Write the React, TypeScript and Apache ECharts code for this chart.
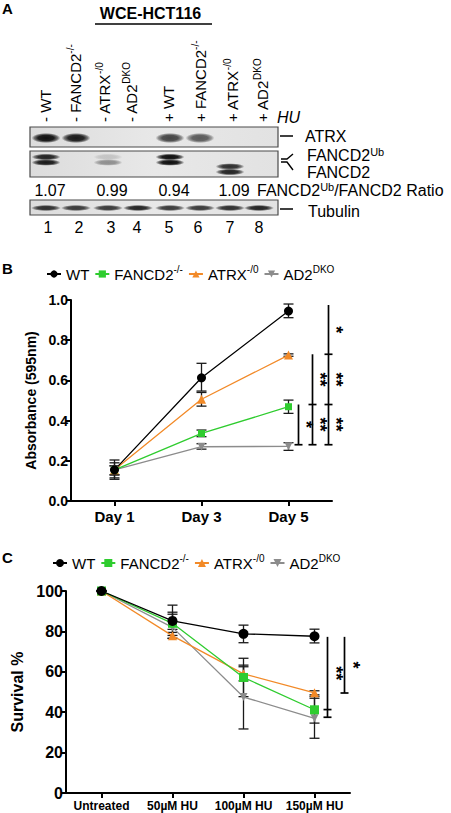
import React, { useEffect, useRef } from 'react';
import * as echarts from 'echarts';

const FONT = '"Liberation Sans", Arial, Helvetica, sans-serif';

// ---------------- Panel A (western blot) data ----------------
const huSigns = ['-', '-', '-', '-', '+', '+', '+', '+'];
const genotypes = ['WT', 'FANCD2', 'ATRX', 'AD2', 'WT', 'FANCD2', 'ATRX', 'AD2'];
const genoSup = ['', '-/-', '-/0', 'DKO', '', '-/-', '-/0', 'DKO'];
const laneNumbers = ['1', '2', '3', '4', '5', '6', '7', '8'];
const atrxBand = [1.0, 0.95, 0, 0, 0.75, 0.65, 0, 0];
const fancd2UbBand = [0.9, 0, 0.15, 0, 1.0, 0, 0.85, 0];
const fancd2Band = [0.95, 0, 0.4, 0, 1.0, 0, 0.9, 0];
const tubulinBand = [0.85, 0.8, 0.8, 0.9, 0.8, 0.8, 0.85, 0.9];
const ratioLanes = [0, 2, 4, 6];
const ratioValues = [1.07, 0.99, 0.94, 1.09];

// ---------------- Panel B data ----------------
const daysB = ['Day 1', 'Day 3', 'Day 5'];
const bWT = [0.155, 0.613, 0.945];
const bFANCD2 = [0.155, 0.336, 0.469];
const bATRX = [0.155, 0.506, 0.726];
const bAD2 = [0.155, 0.27, 0.272];
const bWTErr = [[0.108, 0.204], [0.547, 0.685], [0.912, 0.98]];
const bFANCD2Err = [[0.13, 0.175], [0.32, 0.353], [0.436, 0.502]];
const bATRXErr = [[0.115, 0.19], [0.472, 0.54], [0.72, 0.732]];
const bAD2Err = [[0.13, 0.175], [0.258, 0.285], [0.252, 0.29]];
// significance: [line index, from, to, stars]
const bSig: [number, number, number, string][] = [
  [0, 0.28, 0.48, '*'],
  [1, 0.28, 0.48, '**'],
  [1, 0.48, 0.73, '**'],
  [2, 0.28, 0.48, '**'],
  [2, 0.48, 0.73, '**'],
  [2, 0.73, 0.975, '*'],
];

// ---------------- Panel C data ----------------
const dosesC = ['Untreated', '50µM HU', '100µM HU', '150µM HU'];
const cWT = [100, 85.2, 78.8, 77.6];
const cFANCD2 = [100, 84, 57.2, 41.2];
const cATRX = [100, 77.8, 59, 49.6];
const cAD2 = [100, 82, 47.5, 37];
const cWTErr = [[100, 100], [81, 89.5], [74.4, 83.1], [74.3, 81.1]];
const cFANCD2Err = [[100, 100], [76.5, 93], [47.7, 66.7], [34.6, 47.8]];
const cATRXErr = [[100, 100], [76.6, 79.5], [55.5, 62.5], [48.6, 50.6]];
const cAD2Err = [[100, 100], [78, 88.5], [31.7, 63.3], [27.1, 46.9]];
const cSig: [number, number, number, string][] = [
  [0, 37.5, 41.3, ''],
  [0, 41.3, 77.3, '**'],
  [1, 49.5, 77.3, '*'],
];

const supMap: Record<string, string> = { WT: '', FANCD2: '-/-', ATRX: '-/0', AD2: 'DKO' };
const COLORS: Record<string, string> = {
  WT: '#000000',
  FANCD2: '#2fcc2f',
  ATRX: '#f28a28',
  AD2: '#8c8c8c',
};

const richStyles = (size: number, supSize: number, lh: number, supLh: number) => ({
  n: { fontSize: size, lineHeight: lh, fontFamily: FONT, color: '#000' },
  s: { fontSize: supSize, lineHeight: supLh, verticalAlign: 'top', fontFamily: FONT, color: '#000' },
});
const richLabel = (main: string, sup: string) => `{n|${main}}` + (sup ? `{s|${sup}}` : '');

function buildBlot() {
  const els: any[] = [];
  const laneX = [46, 76, 108, 138, 170, 200, 230, 259];
  const labelX = [45, 75, 104, 131, 168, 200, 232, 262];
  const numX = [48, 79, 111, 137, 169, 198, 230, 259];
  const txt = (x: number, y: number, text: string, extra: any = {}) => ({
    type: 'text', x, y, silent: true,
    style: { text, fontFamily: FONT, fontSize: 16, fill: '#000', align: 'left', verticalAlign: 'middle', ...extra },
  });
  els.push(txt(2, 8, 'A', { fontWeight: 'bold', fontSize: 15 }));
  els.push(txt(150.5, 13, 'WCE-HCT116', { fontWeight: 'bold', fontSize: 16, align: 'center' }));
  els.push({ type: 'line', silent: true, shape: { x1: 95, y1: 24, x2: 212, y2: 24 }, style: { stroke: '#000', lineWidth: 1.5 } });
  // lane labels
  for (let i = 0; i < 8; i++) {
    els.push({
      type: 'text', x: labelX[i], y: 122, rotation: Math.PI / 2, silent: true,
      style: {
        text: `{n|${huSigns[i]} ${genotypes[i]}}` + (genoSup[i] ? `{s|${genoSup[i]}}` : ''),
        rich: richStyles(15, 10, 20, 8), align: 'left', verticalAlign: 'middle', fontFamily: FONT, fontSize: 15,
      },
    });
  }
  els.push(txt(277, 117, 'HU', { fontStyle: 'italic', fontSize: 16 }));
  // blot boxes
  const boxes = [
    { y: 127, h: 20 },
    { y: 151, h: 26 },
    { y: 200, h: 15 },
  ];
  boxes.forEach((b) => {
    els.push({
      type: 'rect', silent: true, shape: { x: 30, y: b.y, width: 248, height: b.h },
      style: {
        fill: { type: 'linear', x: 0, y: 0, x2: 1, y2: 0, colorStops: [
          { offset: 0, color: '#dcdcdc' }, { offset: 0.5, color: '#e8e8e8' }, { offset: 1, color: '#e2e2e2' },
        ] },
        stroke: '#4a4a4a', lineWidth: 1.2,
      },
    });
  });
  const band = (cx: number, cy: number, w: number, h: number, a: number) => ({
    type: 'rect', silent: true,
    shape: { x: cx - w / 2, y: cy - h / 2, width: w, height: h },
    style: {
      opacity: a,
      fill: {
        type: 'radial', x: 0.5, y: 0.5, r: 0.5,
        colorStops: [
          { offset: 0, color: 'rgba(15,15,15,1)' },
          { offset: 0.55, color: 'rgba(20,20,20,0.95)' },
          { offset: 0.8, color: 'rgba(40,40,40,0.6)' },
          { offset: 1, color: 'rgba(60,60,60,0)' },
        ],
      },
    },
  });
  const laneShift = [0, 0, 0, 0, 0, 0, 9.5, 0];
  for (let i = 0; i < 8; i++) {
    if (atrxBand[i] > 0) els.push(band(laneX[i], 138, 29, 10, atrxBand[i]));
    if (fancd2UbBand[i] > 0) els.push(band(laneX[i], 157 + laneShift[i], 29, 6.5, fancd2UbBand[i]));
    if (fancd2Band[i] > 0) els.push(band(laneX[i], 162.5 + laneShift[i], 29, 6.5, fancd2Band[i]));
    if (tubulinBand[i] > 0) els.push(band(laneX[i], 208, 30, 6, tubulinBand[i]));
  }
  // right side labels
  els.push({ type: 'line', silent: true, shape: { x1: 280, y1: 136, x2: 293, y2: 136 }, style: { stroke: '#000', lineWidth: 1.5 } });
  els.push(txt(305, 136, 'ATRX'));
  els.push({ type: 'polyline', silent: true, shape: { points: [[281, 159], [287, 159], [293, 154]] }, style: { stroke: '#000', lineWidth: 1.4, fill: 'none' } });
  els.push({ type: 'polyline', silent: true, shape: { points: [[281, 162], [287, 162], [293, 170]] }, style: { stroke: '#000', lineWidth: 1.4, fill: 'none' } });
  els.push({ type: 'text', x: 307, y: 155, silent: true, style: { text: richLabel('FANCD2', 'Ub'), rich: richStyles(16, 11, 18, 8), align: 'left', verticalAlign: 'middle' } });
  els.push(txt(307, 172, 'FANCD2'));
  // ratios
  ratioLanes.forEach((li, k) => {
    els.push(txt(laneX[li] + 4, 190, ratioValues[k].toFixed(2), { align: 'center' }));
  });
  els.push({ type: 'text', x: 257, y: 190, silent: true, style: { text: '{n|FANCD2}{s|Ub}{n|/FANCD2 Ratio}', rich: richStyles(16, 11, 18, 8), align: 'left', verticalAlign: 'middle' } });
  els.push({ type: 'line', silent: true, shape: { x1: 280, y1: 209, x2: 293, y2: 209 }, style: { stroke: '#000', lineWidth: 1.5 } });
  els.push(txt(308, 211, 'Tubulin'));
  for (let i = 0; i < 8; i++) els.push(txt(numX[i], 227, laneNumbers[i], { align: 'center' }));
  els.push(txt(2, 268, 'B', { fontWeight: 'bold', fontSize: 15 }));
  els.push(txt(2, 557, 'C', { fontWeight: 'bold', fontSize: 15 }));
  return els;
}

function lineSeries(name: string, key: string, data: number[], symbol: string, size: number, gi: number, rotate = 0) {
  return {
    name, type: 'line', xAxisIndex: gi, yAxisIndex: gi, data, silent: true,
    symbol, symbolSize: size, symbolRotate: rotate, showSymbol: true,
    lineStyle: { color: COLORS[key], width: 1.3 },
    itemStyle: { color: COLORS[key], borderWidth: 0 },
    z: 4,
  };
}

function errSeries(errs: number[][], gi: number, capHalf: number) {
  return {
    type: 'custom', xAxisIndex: gi, yAxisIndex: gi, silent: true, z: 3,
    itemStyle: { color: '#1a1a1a' },
    data: errs.map((e, i) => [i, e[0], e[1]]),
    encode: { x: 0, y: [1, 2] },
    renderItem: (params: any, api: any) => {
      const i = api.value(0);
      const lo = api.coord([i, api.value(1)]);
      const hi = api.coord([i, api.value(2)]);
      const st = { stroke: '#1a1a1a', lineWidth: 1.3 };
      return {
        type: 'group',
        children: [
          { type: 'line', shape: { x1: lo[0], y1: lo[1], x2: hi[0], y2: hi[1] }, style: st },
          { type: 'line', shape: { x1: lo[0] - capHalf, y1: lo[1], x2: lo[0] + capHalf, y2: lo[1] }, style: st },
          { type: 'line', shape: { x1: hi[0] - capHalf, y1: hi[1], x2: hi[0] + capHalf, y2: hi[1] }, style: st },
        ],
      };
    },
  };
}

function sigSeries(segs: [number, number, number, string][], lastIdx: number, dxs: number[], gi: number) {
  return {
    type: 'custom', xAxisIndex: gi, yAxisIndex: gi, silent: true, z: 5,
    itemStyle: { color: '#000' },
    data: segs.map((s) => [lastIdx, s[1], s[2]]),
    encode: { x: 0, y: [1, 2] },
    renderItem: (params: any, api: any) => {
      const s = segs[params.dataIndex];
      const lo = api.coord([lastIdx, s[1]]);
      const hi = api.coord([lastIdx, s[2]]);
      const x = lo[0] + dxs[s[0]];
      const st = { stroke: '#000', lineWidth: 1.7 };
      return {
        type: 'group',
        children: [
          { type: 'line', shape: { x1: x, y1: lo[1], x2: x, y2: hi[1] }, style: st },
          { type: 'line', shape: { x1: x - 4, y1: lo[1], x2: x + 4, y2: lo[1] }, style: st },
        ],
      };
    },
  };
}

const B_DX = [10, 24, 40];
const C_DX = [13, 30];

const axisCommon = {
  axisLine: { show: true, lineStyle: { color: '#000', width: 2 } },
  axisTick: { show: true, length: 5, lineStyle: { color: '#000', width: 2 } },
  splitLine: { show: false },
};

export default function App() {
  const ref = useRef<HTMLDivElement>(null);
  useEffect(() => {
    if (!ref.current) return;
    const chart = echarts.init(ref.current, null, { renderer: 'svg' });
    const legendFmt = (name: string) => {
      const k = name.split(':')[1];
      return richLabel(k, supMap[k]);
    };
    const blotEls = buildBlot();
    const option: any = {
      animation: false,
      backgroundColor: '#fff',
      textStyle: { fontFamily: FONT },
      graphic: { elements: blotEls },
      legend: [
        {
          left: 46, top: 264, padding: 0, itemGap: 5, itemWidth: 14, itemHeight: 9, selectedMode: false,
          data: ['B:WT', 'B:FANCD2', 'B:ATRX', 'B:AD2'], formatter: legendFmt,
          textStyle: { fontFamily: FONT, fontSize: 15, color: '#000', rich: richStyles(15, 10, 20, 8) },
        },
        {
          left: 52, top: 553, padding: 0, itemGap: 5, itemWidth: 14, itemHeight: 10, selectedMode: false,
          data: ['C:WT', 'C:FANCD2', 'C:ATRX', 'C:AD2'], formatter: legendFmt,
          textStyle: { fontFamily: FONT, fontSize: 15, color: '#000', rich: richStyles(15, 10, 20, 8) },
        },
      ],
      grid: [
        { left: 71, top: 300, width: 261, height: 201 },
        { left: 66, top: 591, width: 284, height: 202 },
      ],
      xAxis: [
        {
          type: 'category', gridIndex: 0, data: daysB, boundaryGap: true, ...axisCommon,
          axisTick: { ...axisCommon.axisTick, alignWithLabel: true },
          axisLabel: { color: '#000', fontWeight: 'bold', fontSize: 15, margin: 8, fontFamily: FONT },
        },
        {
          type: 'category', gridIndex: 1, data: dosesC, boundaryGap: true, ...axisCommon,
          axisTick: { ...axisCommon.axisTick, alignWithLabel: true },
          axisLabel: { color: '#000', fontWeight: 'bold', fontSize: 12, margin: 7, fontFamily: FONT, interval: 0 },
        },
      ],
      yAxis: [
        {
          type: 'value', gridIndex: 0, min: 0, max: 1, interval: 0.2, ...axisCommon,
          axisLabel: { color: '#000', fontWeight: 'bold', fontSize: 14, margin: 3, fontFamily: FONT, formatter: (v: number) => v.toFixed(1) },
          name: 'Absorbance (595nm)', nameLocation: 'middle', nameGap: 31, nameRotate: 90,
          nameTextStyle: { color: '#000', fontWeight: 'bold', fontSize: 14, fontFamily: FONT },
        },
        {
          type: 'value', gridIndex: 1, min: 0, max: 100, interval: 20, ...axisCommon,
          axisLabel: { color: '#000', fontWeight: 'bold', fontSize: 16, margin: 3, fontFamily: FONT },
          name: 'Survival %', nameLocation: 'middle', nameGap: 30, nameRotate: 90,
          nameTextStyle: { color: '#000', fontWeight: 'bold', fontSize: 16, fontFamily: FONT },
        },
      ],
      series: [
        errSeries(bAD2Err, 0, 5),
        errSeries(bATRXErr, 0, 5),
        errSeries(bFANCD2Err, 0, 5),
        errSeries(bWTErr, 0, 5),
        lineSeries('B:AD2', 'AD2', bAD2, 'triangle', 8, 0, 180),
        lineSeries('B:ATRX', 'ATRX', bATRX, 'triangle', 9, 0),
        lineSeries('B:FANCD2', 'FANCD2', bFANCD2, 'rect', 7, 0),
        lineSeries('B:WT', 'WT', bWT, 'circle', 9, 0),
        sigSeries(bSig, 2, B_DX, 0),
        errSeries(cAD2Err, 1, 5),
        errSeries(cATRXErr, 1, 5),
        errSeries(cFANCD2Err, 1, 5),
        errSeries(cWTErr, 1, 5),
        lineSeries('C:AD2', 'AD2', cAD2, 'triangle', 8, 1, 180),
        lineSeries('C:ATRX', 'ATRX', cATRX, 'triangle', 9, 1),
        lineSeries('C:FANCD2', 'FANCD2', cFANCD2, 'rect', 9, 1),
        lineSeries('C:WT', 'WT', cWT, 'circle', 10, 1),
        sigSeries(cSig, 3, C_DX, 1),
      ],
    };
    chart.setOption(option);

    // significance stars, placed through the axes' own scales
    const starEls: any[] = [];
    const addStars = (segs: [number, number, number, string][], cat: string, dxs: number[], starDx: number, gi: number) => {
      segs.forEach((s) => {
        if (!s[3]) return;
        const lo = chart.convertToPixel({ xAxisIndex: gi, yAxisIndex: gi } as any, [cat, s[1]] as any) as any;
        const hi = chart.convertToPixel({ xAxisIndex: gi, yAxisIndex: gi } as any, [cat, s[2]] as any) as any;
        if (!lo || !hi) return;
        starEls.push({
          type: 'text', silent: true, z: 10,
          x: lo[0] + dxs[s[0]] + starDx, y: (lo[1] + hi[1]) / 2, rotation: -Math.PI / 2,
          style: {
            text: s[3], fontFamily: FONT, fontSize: 18, fontWeight: 'bold', fill: '#000',
            align: 'center', verticalAlign: 'middle',
          },
        });
      });
    };
    addStars(bSig, daysB[2], B_DX, 7, 0);
    addStars(cSig, dosesC[3], C_DX, 8, 1);
    chart.setOption({ graphic: { elements: [...blotEls, ...starEls] } });

    return () => chart.dispose();
  }, []);
  return (
    <div
      ref={ref}
      style={{ position: 'absolute', left: 0, top: 0, width: 451, height: 813, background: '#fff' }}
    />
  );
}
